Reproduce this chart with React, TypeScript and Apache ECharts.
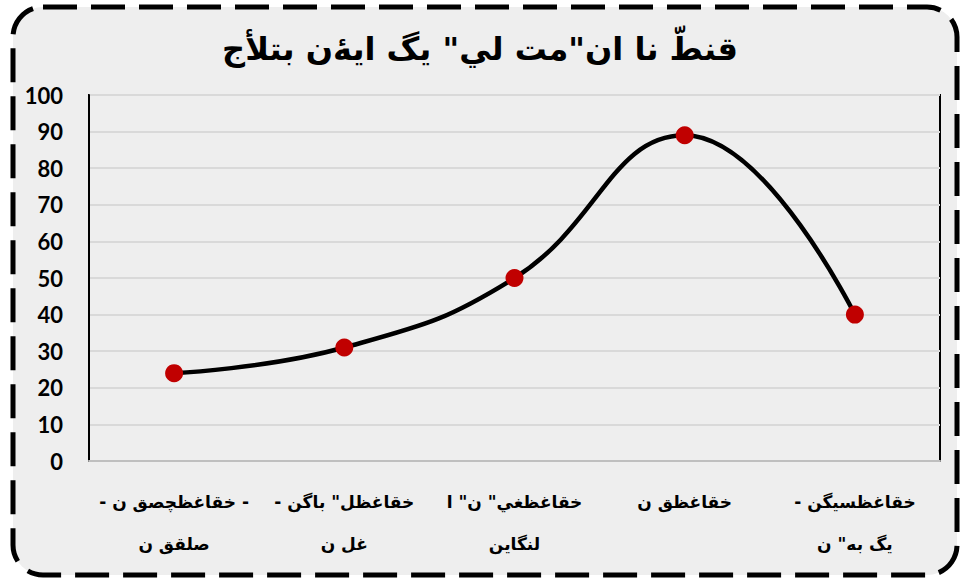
import React, { useEffect, useRef } from "react";
import * as echarts from "echarts";

const titleText = "قنطّ نا ان\"مت لي\" يگ ايۀن بتلأج";
const categories = [
  "- خقاغظچصق ن -\nصلقق ن",
  "- خقاغظل\" باگن\nغل ن",
  "خقاغظغي\" ن\" ا\nلنگاين",
  "خقاغظق ن",
  "- خقاغظسيگن\nيگ به\" ن",
];
const values = [24, 31, 50, 89, 40];
const yTicks = { min: 0, max: 100, interval: 10 };

export default function App() {
  const ref = useRef<HTMLDivElement>(null);
  useEffect(() => {
    if (!ref.current) return;
    const chart = echarts.init(ref.current, undefined, { renderer: "svg" });
    chart.setOption({
      animation: false,
      backgroundColor: "#ffffff",
      graphic: [
        {
          type: "rect",
          z: -10,
          shape: { x: 13, y: 7, width: 944, height: 568, r: 30 },
          style: {
            fill: "#eeeeee",
            stroke: "#000000",
            lineWidth: 5,
            lineDash: [34, 14],
          },
        },
      ],
      title: {
        text: titleText,
        left: "center",
        top: 28,
        textStyle: {
          fontFamily: "DejaVu Sans",
          fontWeight: "bold",
          fontSize: 32,
          color: "#000",
        },
      },
      grid: {
        left: 89,
        right: 20,
        top: 95,
        bottom: 119,
        show: true,
        borderColor: "#000",
        borderWidth: 2,
        backgroundColor: "transparent",
      },
      xAxis: {
        type: "category",
        data: categories,
        boundaryGap: true,
        axisTick: { show: false },
        axisLine: { lineStyle: { color: "#bfbfbf", width: 2 } },
        axisLabel: {
          interval: 0,
          margin: 20,
          fontFamily: "DejaVu Sans",
          fontWeight: "bold",
          fontSize: 17,
          lineHeight: 42,
          color: "#000",
        },
      },
      yAxis: {
        type: "value",
        min: yTicks.min,
        max: yTicks.max,
        interval: yTicks.interval,
        axisLine: { show: true, lineStyle: { color: "#000", width: 2 } },
        axisTick: { show: false },
        splitLine: { lineStyle: { color: "#d9d9d9", width: 2 } },
        axisLabel: {
          margin: 26,
          fontFamily: "Lato",
          fontWeight: "bold",
          fontSize: 22,
          color: "#000",
        },
      },
      series: [
        {
          type: "line",
          data: values,
          smooth: 0.45,
          lineStyle: { color: "#000", width: 4.5 },
          symbol: "circle",
          symbolSize: 18,
          itemStyle: { color: "#c00000" },
          z: 3,
        },
      ],
    });
    return () => chart.dispose();
  }, []);
  return (
    <div
      ref={ref}
      style={{ position: "absolute", left: 0, top: 0, width: 960, height: 580 }}
    />
  );
}
